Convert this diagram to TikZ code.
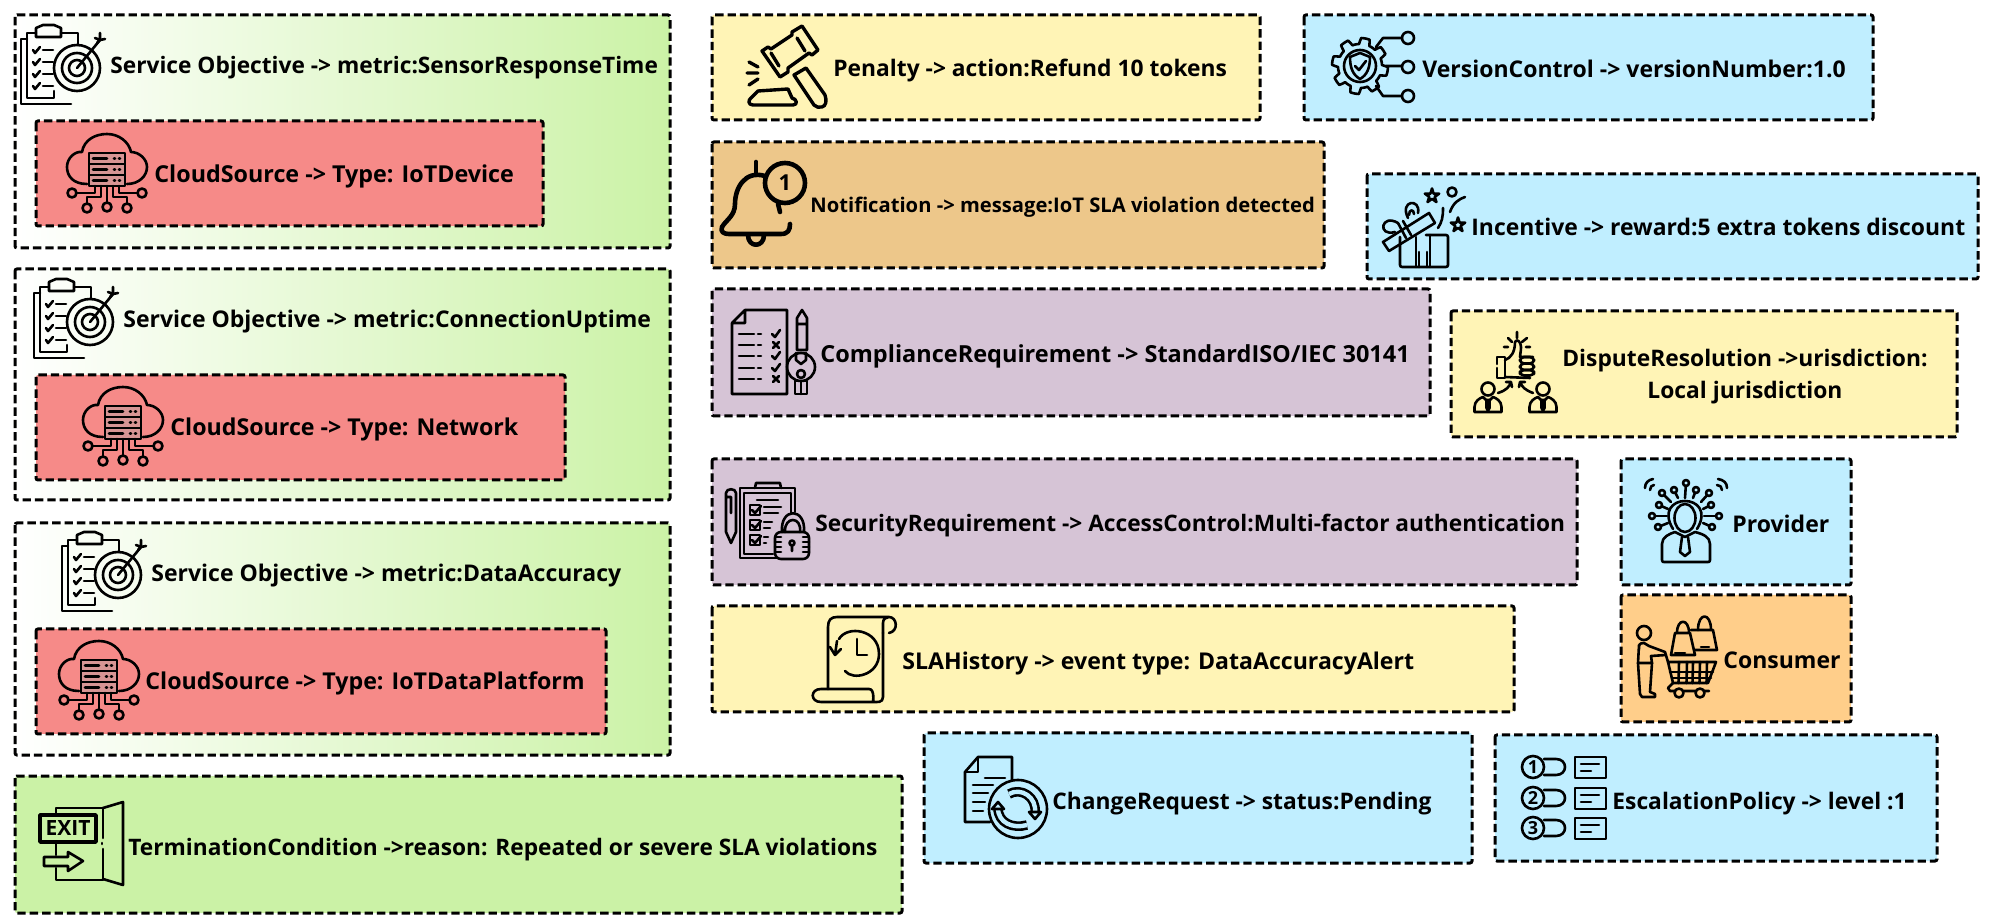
\documentclass[tikz,border=0pt]{standalone}
\usepackage{fontspec}
\setmainfont{Open Sans}
\usetikzlibrary{calc,positioning}

\definecolor{slagreen}{HTML}{CBF2A6}
\definecolor{slared}{HTML}{F68A88}
\definecolor{slayellow}{HTML}{FFF4B6}
\definecolor{slatan}{HTML}{EDC78A}
\definecolor{slapurple}{HTML}{D6C4D6}
\definecolor{slablue}{HTML}{C0EEFF}
\definecolor{slaorange}{HTML}{FFCE8A}

\begin{document}
\begin{tikzpicture}[
    x=0.5pt, y=-0.5pt,
    areabox/.style={draw, line width=1.5pt, dash pattern=on 4.2pt off 2pt, rounded corners=1pt},
    gradbox/.style={areabox, left color=white, right color=slagreen},
    boxtext/.style={anchor=west, inner sep=0pt, yshift=-1.2pt, align=center, font=\bfseries\fontsize{#1}{16}\selectfont},
    boxtext/.default=11.5,
    iconline/.style={line width=1.3pt, line join=round, line cap=round},
    iconbold/.style={line width=1.7pt, line join=round, line cap=round},
    icontext/.style={inner sep=0pt, font=\bfseries\fontsize{#1}{#1}\selectfont},
    starmark/.pic={
        \draw[iconline] (0,-1) -- (0.22,-0.3) -- (0.95,-0.31) -- (0.36,0.12) -- (0.59,0.81) -- (0,0.38)
            -- (-0.59,0.81) -- (-0.36,0.12) -- (-0.95,-0.31) -- (-0.22,-0.3) -- cycle;
    },
    targeticon/.pic={
        \draw[iconline] (50,79) -- (0,79) -- (0,14) -- (6,14);
        \draw[iconline] (33,66) -- (33,73) -- (6,73) -- (6,8) -- (15,8);
        \draw[iconline] (40,8) -- (57,8) -- (57,20);
        \draw[iconline] (15,12) -- (15,3) -- (22,0) -- (33,0) -- (40,3) -- (40,12) -- cycle;
        \foreach \y in {25,37,49,61} {
            \draw[iconline] (12,\y) -- (14,\y+3) -- (19,\y-3);
            \draw[iconline] (22,\y) -- (32,\y);
        }
        \foreach \r in {23,15,8} {
            \draw[iconline] (56,43) circle (\r);
        }
        \draw[iconline] (56,43) -- (79,15);
        \draw[iconline] (74,13) -- (79,15) -- (84,14) (76,18) -- (79,15) -- (79,8);
    },
    cloudicon/.pic={
        \draw[iconline] (20,50) .. controls (6,50) and (0,42) .. (0,33) .. controls (0,24) and (8,17) .. (15,18)
            .. controls (17,6) and (28,0) .. (40,0) .. controls (52,0) and (62,8) .. (64,18)
            .. controls (72,18) and (80,25) .. (80,33) .. controls (80,42) and (72,50) .. (60,50);
        \foreach \y in {19,30,41} {
            \draw[iconline, fill=black!35, fill opacity=0.4] (22,\y) rectangle (58,\y+11);
            \draw[iconline] (26,\y+5.5) -- (40,\y+5.5) (47,\y+5.5) -- (48,\y+5.5) (52,\y+5.5) -- (53,\y+5.5);
        }
        \draw[iconline] (28,52) -- (28,59) -- (9,59) (52,52) -- (52,59) -- (70,59);
        \draw[iconline] (34,52) -- (34,63) -- (20,63) -- (20,69) (46,52) -- (46,63) -- (60,63) -- (60,69);
        \draw[iconline] (40,52) -- (40,68);
        \foreach \x/\y in {5/59,75/59,20/74,40/73,60/74} {
            \draw[iconline] (\x,\y) circle (4.5);
        }
    },
    exiticon/.pic={
        \draw[iconbold] (1,13) rectangle (57,40);
        \node[icontext=10.5] (exitword) at (29,26.5) {EXIT};
        \draw[iconline] (17,13) -- (17,6) -- (64,6) (17,40) -- (17,53) (17,66) -- (17,78) -- (64,78);
        \draw[iconline] (64,6) -- (84,0) -- (84,83) -- (64,77);
        \draw[iconline] (64,6) -- (64,36) (64,47) -- (64,77) (63,41) -- (63,42);
        \draw[iconline] (5,55) -- (29,55) -- (29,50) -- (44,59) -- (29,69) -- (29,64) -- (5,64) -- cycle;
    },
    gavelicon/.pic={
        \draw[iconbold] (16,26) -- (22,22) -- (25,24) -- (46,10) -- (46,7) -- (56,1) -- (72,25) -- (66,30) -- (63,28)
            -- (42,43) -- (42,47) -- (34,52) -- cycle;
        \draw[iconbold] (25,28) -- (33,41) (51,13) -- (59,26);
        \draw[iconbold] (48,50) -- (60,43) -- (79,70) .. controls (81,76) and (80,81) .. (76,82) .. controls (73,83) and (70,82) .. (68,80) -- cycle;
        \draw[iconbold] (12,66) -- (42,64) -- (46,73) .. controls (51,74) and (52,80) .. (47,80) -- (7,80) .. controls (2,80) and (2,75) .. (5,73) -- cycle;
        \draw[iconbold] (3,37) -- (12,42) (1,48) -- (12,48) (3,60) -- (12,54);
    },
    bellicon/.pic={
        \draw[iconbold, line width=2.3pt] (64,21) circle (20);
        \node[icontext=11] (bellnumber) at (64,21) {1};
        \draw[iconbold, line width=2.3pt] (35,0) -- (35,13);
        \draw[iconbold, line width=2.3pt] (44,14) .. controls (24,8) and (14,26) .. (14,42) .. controls (14,54) and (5,58) .. (1,65)
            .. controls (-1,70) and (3,72) .. (8,72) -- (60,72) .. controls (67,72) and (69,68) .. (69,62);
        \draw[iconbold, line width=2.3pt] (57,42) -- (59,50);
        \draw[iconbold, line width=2.3pt] (27,73) .. controls (27,86) and (43,86) .. (43,73);
    },
    checkicon/.pic={
        \draw[iconline] (13,0) -- (55,0) -- (55,84) -- (0,84) -- (0,13) -- cycle (13,0) -- (13,13) -- (0,13);
        \foreach \y in {24,46,58} {
            \draw[iconline] (7,\y) -- (22,\y) (26,\y) -- (29,\y);
            \draw[iconline] (40,\y) -- (43,\y+3) -- (48,\y-4);
        }
        \foreach \y in {35,69} {
            \draw[iconline] (7,\y) -- (22,\y) (26,\y) -- (29,\y);
            \draw[iconline] (41,\y-3) -- (47,\y+3) (47,\y-3) -- (41,\y+3);
        }
        \draw[iconline] (65,8) -- (70,0) -- (75,8) -- (75,40) -- (65,40) -- cycle (65,14) -- (75,14);
        \draw[iconline] (69,57) circle (14);
        \draw[iconline] (69,64) circle (4);
        \draw[iconline] (64,43) -- (64,50) -- (69,54) -- (74,50) -- (74,43);
        \draw[iconline] (63,71) rectangle (75,84) (69,71) -- (69,84);
    },
    lockicon/.pic={
        % clipboard
        \draw[iconline] (67,27) -- (67,3) -- (12,3) -- (12,73) -- (49,73) (63,28) -- (63,8) -- (16,8) -- (16,69) -- (45,69);
        \draw[iconline] (27,3) -- (28,-2) -- (52,-2) -- (53,3);
        \draw[iconline] (29,15) -- (50,15);
        \foreach \y/\a/\b in {20/53/50,35/44/42,50/40/38} {
            \draw[iconline] (22,\y) rectangle (32,\y+10);
            \draw[iconline] (24,\y+5) -- (27,\y+8) -- (33,\y+1);
            \draw[iconline] (36,\y+2) -- (\a,\y+2) (36,\y+8) -- (\b,\y+8);
        }
        % pen
        \draw[iconline] (-2,8) .. controls (-2,3) and (8,3) .. (8,8) -- (8,47) -- (3,58) -- (-2,47) -- cycle (-2,12) -- (3,12) -- (3,28);
        % lock
        \draw[iconline, rounded corners=3pt] (47,47) rectangle (81,74);
        \draw[iconline] (54,47) .. controls (52,22) and (78,22) .. (76,47) (57,47) .. controls (56,31) and (74,31) .. (72,47);
        \draw[iconline] (64,58) circle (2.5) (64,60) -- (64,66);
        \foreach \y in {52,57,62,67} {
            \draw[iconline] (47,\y) -- (53,\y) (75,\y) -- (81,\y);
        }
    },
    historyicon/.pic={
        \draw[iconline] (15,72) -- (15,10) .. controls (15,3) and (18,0) .. (24,0) -- (76,0)
            .. controls (84,0) and (86,14) .. (76,16) (70,16) -- (70,6) .. controls (70,2) and (73,0) .. (76,0);
        \draw[iconline] (70,16) -- (70,80) .. controls (70,86) and (64,85) .. (60,85) -- (8,85)
            .. controls (-3,85) and (-3,72) .. (8,72) -- (56,72) .. controls (62,72) and (60,85) .. (60,85);
        \draw[iconline] (26,22) .. controls (34,8) and (66,12) .. (66,37) .. controls (66,58) and (40,64) .. (32,54);
        \draw[iconline] (24,24) -- (22,38) (22,38) -- (17,30) (22,38) -- (28,32);
        \draw[iconline] (44,22) -- (44,38) -- (54,38);
    },
    versionicon/.pic={
        \draw[iconline] plot[domain=0:360, samples=145, variable=\t] ({27+(25+3*sign(sin(8*\t)))*cos(\t)}, {34+(25+3*sign(sin(8*\t)))*sin(\t)}) -- cycle;
        \draw[iconline] (27,34) circle (16);
        \draw[iconline] (27,21) -- (37,25) .. controls (37,36) and (34,43) .. (27,47) .. controls (20,43) and (17,36) .. (17,25) -- cycle;
        \draw[iconline] (22,34) -- (26,38) -- (33,29);
        \draw[iconline] (43,15) -- (50,6) -- (69,6) (53,34) -- (69,34) (43,54) -- (50,64) -- (69,64);
        \foreach \y in {6,35,64} {
            \draw[iconline] (75,\y) circle (6);
        }
    },
    gifticon/.pic={
        \draw[iconline, rounded corners=1pt] (19,52) -- (19,82) -- (67,82) -- (67,50) -- (45,50);
        \draw[iconline] (35,52) -- (35,82) (49,50) -- (49,82) (38,67) -- (38,82) (46,67) -- (46,82);
        \draw[iconline] (2,57) -- (48,28) -- (54,38) -- (8,66) -- cycle;
        \draw[iconline] (17,38) -- (25,53) (22,36) -- (30,50);
        \draw[iconline] (17,38) .. controls (0,28) and (-4,52) .. (14,47);
        \draw[iconline] (27,33) .. controls (18,15) and (40,13) .. (37,28);
        \draw[iconline] (28,30) .. controls (28,24) and (33,24) .. (33,29);
        \draw[iconline] (62,23) .. controls (62,32) and (61,37) .. (57,43);
        \draw[iconline] (69,27) .. controls (72,18) and (78,14) .. (84,12);
        \draw[iconline] (71,7) circle (4.5);
        \pic[scale=7.5] at (51,11) {starmark};
        \pic[scale=7.5] at (77,40) {starmark};
    },
    disputeicon/.pic={
        \draw[iconline] (24,32) -- (24,25) -- (32,25) -- (32,46) -- (24,46) -- (24,36);
        \draw[iconline] (32,28) .. controls (38,26) and (42,20) .. (42,10) .. controls (44,6) and (48,10) .. (48,15) .. controls (48,20) and (47,22) .. (47,25) -- (60,25);
        \foreach \y/\h in {25/6.5,31.5/6.5,38/5.5} {
            \draw[iconline, rounded corners=2pt] (47,\y) rectangle (61,\y+\h);
        }
        \draw[iconline] (32,45) -- (57,46);
        \draw[iconline] (44,0) -- (44,6) (35,6) -- (39,10) (54,6) -- (49,10) (31,15) -- (35,15) (57,15) -- (53,15);
        \foreach \x in {15,70} {
            \draw[iconline] (\x,57) circle (6.5);
            \draw[iconline] (\x-13.5,80) -- (\x-13.5,75) .. controls (\x-13.5,69) and (\x-8,66) .. (\x-5,65) -- (\x-2,68) -- (\x+2,68) -- (\x+5,65)
                .. controls (\x+8,66) and (\x+13.5,69) .. (\x+13.5,75) -- (\x+13.5,80) -- cycle;
            \draw[iconline] (\x-1.5,68) -- (\x-1.5,76) -- (\x,79) -- (\x+1.5,76) -- (\x+1.5,68);
        }
        \draw[iconline] (25,61) .. controls (34,58) and (36,55) .. (38,50) (33,50) -- (38,50) -- (39,55);
        \draw[iconline] (60,61) .. controls (52,58) and (49,55) .. (47,50) (52,50) -- (47,50) -- (46,55);
    },
    providericon/.pic={
        \draw[iconline] (42,39) ellipse (10.5 and 14);
        \draw[iconline] (30,50) .. controls (19,32) and (30,22) .. (42,22) .. controls (54,22) and (65,32) .. (54,50);
        \draw[iconline] (32,53) -- (42,58) -- (52,53) .. controls (60,55) and (67,58) .. (67,65) -- (67,81) .. controls (67,83) and (66,83) .. (65,83)
            -- (21,83) .. controls (20,83) and (19,83) .. (19,81) -- (19,65) .. controls (19,58) and (26,55) .. (32,53);
        \draw[iconline] (39,58) -- (37,73) -- (42,77) -- (47,73) -- (45,58);
        \foreach \x/\y/\u/\v in {43/4/42/19,19/14/28/23,31/11/35/19,53/11/50/19,66/14/58/23,16/26/25/30,68/26/60/30,9/37/24/37,76/37/61/37,15/48/25/44,69/48/60/44} {
            \draw[iconline] (\x,\y) circle (3);
            \draw[iconline] ($(\x,\y)!1.5pt!(\u,\v)$) -- (\u,\v);
        }
        \draw[iconline] (2,9) .. controls (2,4) and (5,1) .. (10,0) (7,11) .. controls (7,8) and (9,6) .. (11,6);
        \draw[iconline] (84,9) .. controls (84,4) and (81,1) .. (75,0) (79,11) .. controls (79,8) and (77,6) .. (74,6);
    },
    consumericon/.pic={
        \draw[iconline] (9,17) circle (7);
        \draw[iconline] (4,29) -- (3,47) -- (17,47) -- (16,40) -- (31,39) (9,27) .. controls (4,27) and (4,29) .. (4,33) (9,27) -- (14,30) -- (30,36) -- (33,46);
        \draw[iconline] (3,47) -- (5,78) -- (7,81) -- (20,81) -- (20,78) -- (15,76) -- (17,47);
        \draw[iconline] (33,46) -- (81,46) -- (73,67) -- (38,67) -- cycle;
        \foreach \x in {44,52,58,65,72} {
            \draw[iconline] (\x,46) -- (\x-0.5,67);
        }
        \draw[iconline] (35,56) -- (78,56) (37,62) -- (76,62);
        \draw[iconline] (38,67) -- (33,72) -- (35,75) -- (40,75) (49,75) -- (60,75) (69,75) -- (74,75);
        \draw[iconline] (44,77) circle (4.5) (65,77) circle (4.5);
        \draw[iconline] (36,39) -- (40,17) -- (55,17) -- (60,39) -- cycle;
        \draw[iconline] (42,17) .. controls (42,2) and (54,2) .. (54,17);
        \draw[iconline] (40,37) -- (50,37);
        \draw[iconline] (56,14) -- (78,14) -- (82,34) -- (60,34);
        \draw[iconline] (63,14) .. controls (63,-4) and (76,-4) .. (76,14);
        \draw[iconline] (66,31) -- (74,31);
    },
    changeicon/.pic={
        \draw[iconline] (27,65) -- (2,65) -- (2,15) -- (15,0) -- (49,0) -- (49,23);
        \draw[iconline] (15,0) -- (15,15) -- (2,15);
        \foreach \y/\l in {28/30,36/25,45/22,54/20} {
            \draw[iconline] (10,\y) -- (\l,\y);
        }
        \draw[iconline] (22,21) -- (42,21);
        \draw[iconline] (55,52) circle (29);
        \draw[iconline, line width=1.3pt, double=slablue, double distance=2.2pt, line cap=butt] (46,37) .. controls (58,30) and (74,40) .. (72,56);
        \draw[iconline, fill=slablue] (66,55) -- (78,55) -- (72,62) -- cycle;
        \draw[iconline, line width=1.3pt, double=slablue, double distance=2.2pt, line cap=butt] (64,68) .. controls (50,72) and (35,66) .. (35,51);
        \draw[iconline, fill=slablue] (29,52) -- (41,52) -- (35,45) -- cycle;
    },
    escalateicon/.pic={
        \foreach \y/\n in {12/1,43/2,73/3} {
            \draw[iconline] (12,\y) circle (11);
            \node[icontext=9] (escalate\n) at (12,\y) {\n};
            \draw[iconline] (23,\y-8) -- (35,\y-8) .. controls (47,\y-8) and (47,\y+8) .. (35,\y+8) -- (23,\y+8);
            \draw[iconline] (54,\y-10) rectangle (85,\y+11);
            \draw[iconline] (60,\y-3) -- (78,\y-3) (60,\y+4) -- (70,\y+4);
        }
    }
]

    % Service objectives with their cloud sources
    \draw[gradbox] (15,15) rectangle (670,248);
    \draw[areabox, fill=slared] (36,121) rectangle (543,226);
    \pic at (21,25) {targeticon};
    \pic at (67,134) {cloudicon};
    \node[boxtext=11.35] (objectiveone) at (110,65) {Service Objective -> metric:SensorResponseTime};
    \node[boxtext=11.65] (sourceone) at (154,174) {CloudSource -> Type: IoTDevice};

    \draw[gradbox] (15,269) rectangle (670,500);
    \draw[areabox, fill=slared] (36,375) rectangle (565,480);
    \pic at (34,279) {targeticon};
    \pic at (83,387) {cloudicon};
    \node[boxtext] (objectivetwo) at (123,319) {Service Objective -> metric:ConnectionUptime};
    \node[boxtext=11.6] (sourcetwo) at (170,427) {CloudSource -> Type: Network};

    \draw[gradbox] (15,523) rectangle (670,755);
    \draw[areabox, fill=slared] (36,629) rectangle (606,734);
    \pic at (62,532) {targeticon};
    \pic at (59,641) {cloudicon};
    \node[boxtext] (objectivethree) at (151,573) {Service Objective -> metric:DataAccuracy};
    \node[boxtext=11.6] (sourcethree) at (145,681) {CloudSource -> Type: IoTDataPlatform};

    % Termination
    \draw[areabox, fill=slagreen] (15,776) rectangle (902,913);
    \pic at (39,802) {exiticon};
    \node[boxtext=11.35] (termination) at (128,847) {TerminationCondition ->reason: Repeated or severe SLA violations};

    % Middle column
    \draw[areabox, fill=slayellow] (712,15) rectangle (1260,120);
    \pic at (746,25) {gavelicon};
    \node[boxtext=11.4] (penalty) at (833,68) {Penalty -> action:Refund 10 tokens};

    \draw[areabox, fill=slatan] (712,142) rectangle (1324,268);
    \pic at (721,162) {bellicon};
    \node[boxtext=10.1] (notification) at (810,205) {Notification -> message:IoT SLA violation detected};

    \draw[areabox, fill=slapurple] (712,289) rectangle (1430,416);
    \pic at (732,310) {checkicon};
    \node[boxtext=11.75] (compliance) at (820,354) {ComplianceRequirement -> StandardISO/IEC 30141};

    \draw[areabox, fill=slapurple] (712,459) rectangle (1577,585);
    \pic at (728,485) {lockicon};
    \node[boxtext=11.35] (security) at (815,523) {SecurityRequirement -> AccessControl:Multi-factor authentication};

    \draw[areabox, fill=slayellow] (712,606) rectangle (1514,712);
    \pic at (813,617) {historyicon};
    \node[boxtext=11.55] (history) at (902,661) {SLAHistory -> event type: DataAccuracyAlert};

    % Right column
    \draw[areabox, fill=slablue] (1304,15) rectangle (1873,120);
    \pic at (1333,32) {versionicon};
    \node[boxtext] (version) at (1422,67) {VersionControl -> versionNumber:1.0};

    \draw[areabox, fill=slablue] (1367,174) rectangle (1978,279);
    \pic at (1381,185) {gifticon};
    \node[boxtext=11.45] (incentive) at (1471,225) {Incentive -> reward:5 extra tokens discount};

    \draw[areabox, fill=slayellow] (1451,311) rectangle (1957,437);
    \pic at (1473,332) {disputeicon};
    \node[boxtext=11.4, anchor=center] (dispute) at (1745,374) {DisputeResolution ->urisdiction:\\Local jurisdiction};

    \draw[areabox, fill=slablue] (1621,459) rectangle (1851,585);
    \pic at (1643,479) {providericon};
    \node[boxtext] (provider) at (1732,521) {Provider};

    \draw[areabox, fill=slaorange] (1621,595) rectangle (1851,722);
    \pic at (1635,616) {consumericon};
    \node[boxtext] (consumer) at (1723,658) {Consumer};

    % Bottom row
    \draw[areabox, fill=slablue] (924,733) rectangle (1472,863);
    \pic at (963,757) {changeicon};
    \node[boxtext=11.4] (change) at (1052,801) {ChangeRequest -> status:Pending};

    \draw[areabox, fill=slablue] (1495,735) rectangle (1937,861);
    \pic at (1521,755) {escalateicon};
    \node[boxtext=11.4] (escalation) at (1612,801) {EscalationPolicy -> level :1};

    \useasboundingbox (0,0) rectangle (1994,919);

\end{tikzpicture}
\end{document}
